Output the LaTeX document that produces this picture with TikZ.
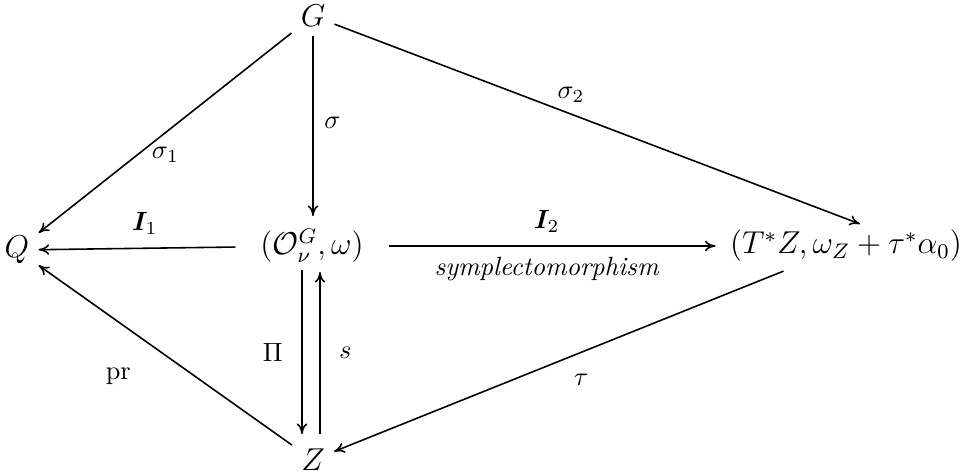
\documentclass[tikz,border=0pt]{standalone}
\usepackage{amsmath,bm}
\usetikzlibrary{arrows.meta}
\begin{document}
\begin{tikzpicture}[x=0.01333cm,y=-0.01333cm,
  arr/.style={line width=0.6pt,-{To[length=4pt,width=4pt]}},
  obj/.style={font=\fontsize{11.5}{13}\selectfont},
  lbl/.style={inner sep=2pt}]
\useasboundingbox (0,0) rectangle (966,474);
\node[obj] (G) at (313,16) {$G$};
\node[obj] (Q) at (17,250) {$Q$};
\node[obj] (C) at (312,246) {$(\mathcal{O}^G_{\nu},\omega)$};
\node[obj] (R) at (846,246) {$(T^*Z,\omega_Z+\tau^*\alpha_0)$};
\node[obj] (Z) at (313,460) {$Z$};
\coordinate (Rt) at (860,224);
\coordinate (Ct) at (313,216);
\coordinate (Pa) at (302,270);
\coordinate (Pb) at (302,434);
\coordinate (Sa) at (320,434);
\coordinate (Sb) at (320,272);
\draw[arr] (G) -- node[lbl,pos=0.56,anchor=north west,inner sep=0.5pt] {$\sigma_1$} (Q);
\draw[arr] (G) -- node[lbl,pos=0.48,right=2pt] {$\sigma$} (Ct);
\draw[arr] (G) -- node[lbl,pos=0.45,above=2pt] {$\sigma_2$} (Rt);
\draw[arr,shorten <=6pt] (C) -- node[lbl,pos=0.5,above=3pt] {$\bm{I}_1$} (Q);
\draw[arr,shorten <=6pt,shorten >=2pt] (C) -- node[lbl,pos=0.5,above=3pt] {$\bm{I}_2$} node[lbl,pos=0.5,below=2pt] {\textit{symplectomorphism}} (R);
\draw[arr] (Pa) -- node[lbl,pos=0.5,left=5pt] {$\Pi$} (Pb);
\draw[arr] (Sa) -- node[lbl,pos=0.5,right=5pt] {$s$} (Sb);
\draw[arr] (Z) -- node[lbl,pos=0.55,below left=6pt] {$\mathrm{pr}$} (Q);
\draw[arr] (R) -- node[lbl,pos=0.45,below=6pt] {$\tau$} (Z);
\end{tikzpicture}
\end{document}
